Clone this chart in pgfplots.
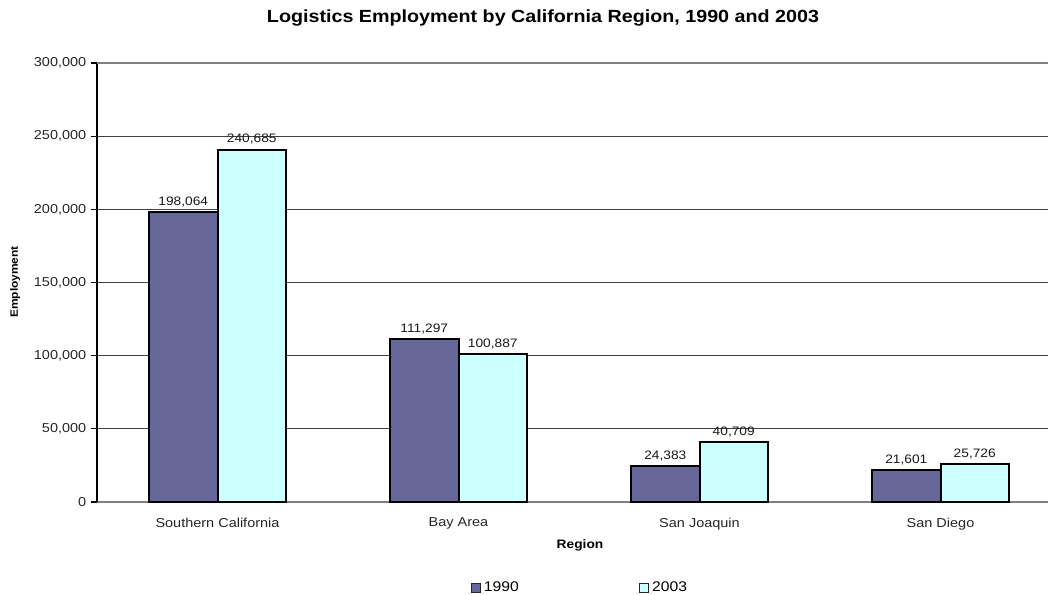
\documentclass[border=0pt]{standalone}
\usepackage{fontspec}
\setmainfont[FakeStretch=1.12]{Liberation Sans}
\usepackage{pgfplots}
\pgfplotsset{compat=1.18}
\definecolor{c1990}{HTML}{666699}
\definecolor{c2003}{HTML}{CCFFFF}
\begin{document}
\begin{tikzpicture}
\useasboundingbox (-72.75pt,-69.75pt) rectangle (713.25pt,376.5pt);
\begin{axis}[
  at={(0pt,0pt)}, anchor=south west,
  width=713.25pt, height=329.25pt, scale only axis,
  ybar=0pt, bar width=0.284,
  xmin=-0.5, xmax=3.446,
  ymin=0, ymax=300000,
  ytick={0,50000,100000,150000,200000,250000,300000},
  scaled y ticks=false,
  /pgf/number format/fixed,
  /pgf/number format/precision=0,
  /pgf/number format/assume math mode=true,
  /pgf/number format/1000 sep={,},
  xtick={0,1,2,3},
  xticklabels={Southern California, Bay Area, San Joaquin, San Diego},
  extra x ticks={0.5,1.5,2.5},
  extra x tick labels={},
  extra x tick style={major tick length=4pt, tick style={gray, line width=0.6pt}},
  x tick style={draw=none},
  y tick style={black, line width=0.9pt},
  major tick length=4.5pt,
  tick align=outside,
  axis lines*=left,
  x axis line style={gray, line width=0.9pt},
  y axis line style={black, line width=1.3pt},
  ymajorgrids, grid style={black!75, line width=0.6pt},
  tick label style={font=\fontsize{9.7}{10}\selectfont, text=black!85},
  xticklabel style={yshift=-4pt},
  yticklabel style={xshift=0pt},
  nodes near coords={\pgfmathprintnumber{\pgfplotspointmeta}},
  every node near coord/.append style={font=\fontsize{9.2}{10}\selectfont, text=black!90},
  legend style={at={(0.508,-0.196)}, anchor=center, draw=none, fill=none,
    legend columns=2, font=\fontsize{10.5}{11}\selectfont,
    /tikz/every even column/.append style={column sep=88pt}},
  legend image code/.code={\draw[#1, line width=1pt, draw=black!85] (0pt,-3.5pt) rectangle (7pt,3.5pt);},
  clip=false,
]
\addplot[fill=c1990, draw=black, line width=1.5pt, bar shift=-0.142] coordinates {(0,198064) (1,111297) (2,24383) (3,21601)};
\addplot[fill=c2003, draw=black, line width=1.5pt, bar shift=0.142] coordinates {(0,240685) (1,100887) (2,40709) (3,25726)};
\legend{1990,2003}
\end{axis}
\draw[gray, line width=1.3pt] (0pt,329.25pt) -- (713.25pt,329.25pt);
\node[font=\bfseries\fontsize{13.2}{14}\selectfont] at (334.5pt,363pt) {Logistics Employment by California Region, 1990 and 2003};
\node[font=\bfseries\fontsize{8}{9}\selectfont, rotate=90] at (-61.5pt,165pt) {Employment};
\node[font=\bfseries\fontsize{9.2}{10}\selectfont] at (362.25pt,-32.25pt) {Region};
\end{tikzpicture}
\end{document}
